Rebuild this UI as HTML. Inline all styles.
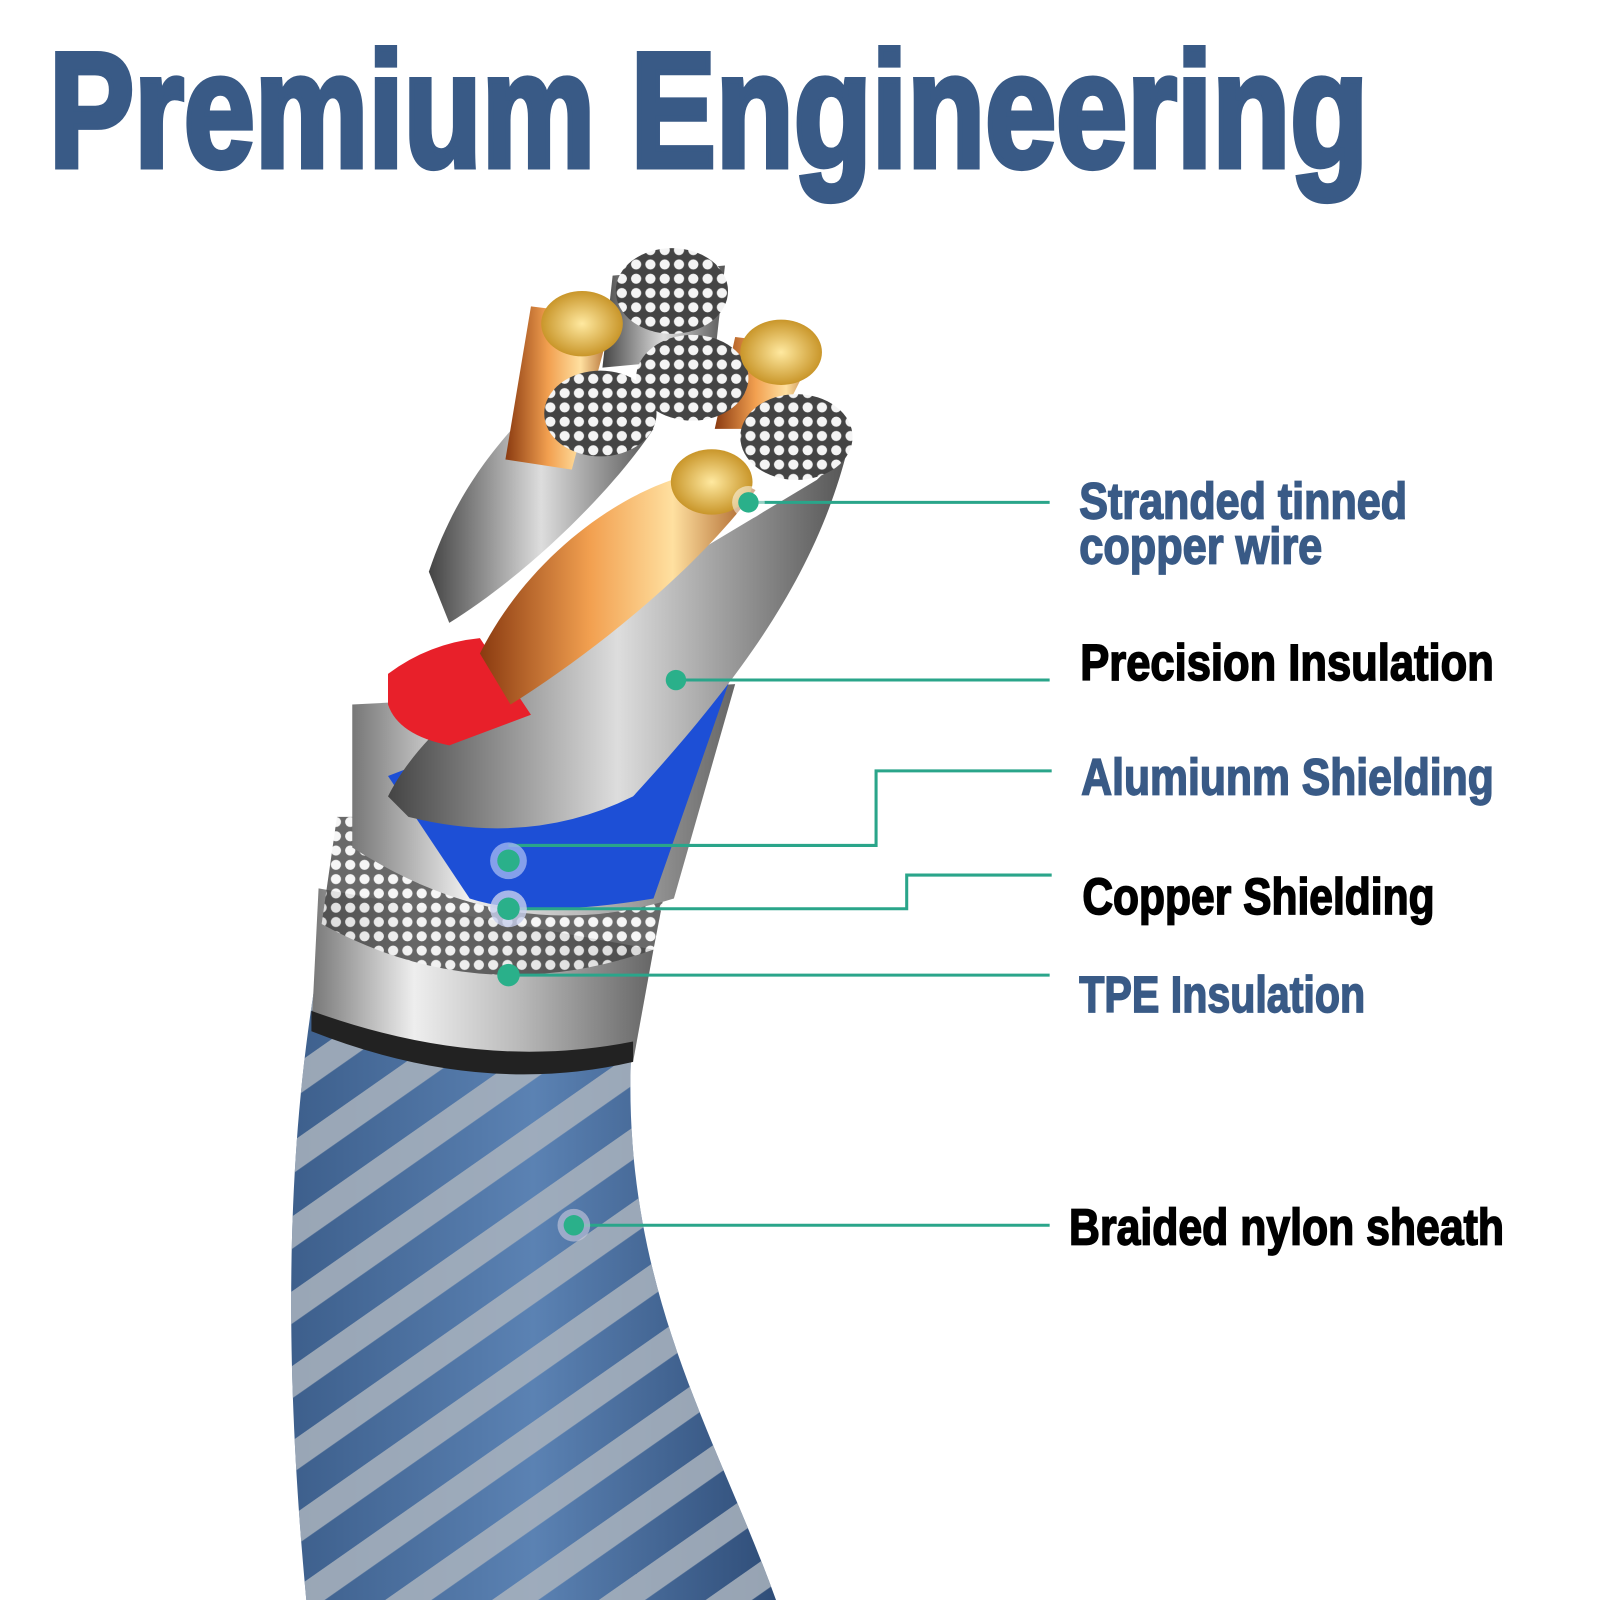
<!DOCTYPE html>
<html><head><meta charset="utf-8"><style>
html,body{margin:0;padding:0;background:#fff;width:1600px;height:1600px;overflow:hidden}
svg{display:block}
text{font-family:"Liberation Sans",sans-serif;font-weight:bold}
</style></head><body>
<svg width="1600" height="1600" viewBox="0 0 1567 1567" xmlns="http://www.w3.org/2000/svg">
<defs>
<linearGradient id="braid" x1="0" x2="1" y1="0" y2="0">
<stop offset="0" stop-color="#3d5f8c"/><stop offset="0.5" stop-color="#5b82b3"/><stop offset="1" stop-color="#2f4d78"/></linearGradient>
<pattern id="stripes" width="60" height="60" patternUnits="userSpaceOnUse" patternTransform="rotate(-35)">
<rect width="60" height="26" fill="#a9b3bd" opacity="0.85"/></pattern>
<linearGradient id="metal" x1="0" x2="1"><stop offset="0" stop-color="#777"/><stop offset="0.3" stop-color="#eee"/><stop offset="0.6" stop-color="#bbb"/><stop offset="1" stop-color="#666"/></linearGradient>
<linearGradient id="copper" x1="0" x2="1"><stop offset="0" stop-color="#8a3a10"/><stop offset="0.4" stop-color="#f2a050"/><stop offset="0.7" stop-color="#ffe0a0"/><stop offset="1" stop-color="#a55a20"/></linearGradient>
<linearGradient id="silver" x1="0" x2="1"><stop offset="0" stop-color="#444"/><stop offset="0.5" stop-color="#ddd"/><stop offset="1" stop-color="#555"/></linearGradient>
<radialGradient id="gold"><stop offset="0" stop-color="#ffe9a0"/><stop offset="1" stop-color="#c9962a"/></radialGradient>
<pattern id="dots" width="14" height="14" patternUnits="userSpaceOnUse"><rect width="14" height="14" fill="#444"/><circle cx="7" cy="7" r="5" fill="#f4f4f4"/></pattern>
</defs>
<text x="48" y="163" font-size="160" fill="#395a86" stroke="#395a86" stroke-width="6" textLength="1292" lengthAdjust="spacingAndGlyphs">Premium Engineering</text>

<path d="M320 900 C290 1050 270 1250 300 1567 L760 1567 C700 1400 600 1250 620 1000 Z" fill="url(#braid)"/>
<path d="M320 900 C290 1050 270 1250 300 1567 L760 1567 C700 1400 600 1250 620 1000 Z" fill="url(#stripes)"/>
<path d="M312 870 L640 930 L620 1040 Q470 1070 305 1010 Z" fill="url(#metal)"/>
<path d="M305 990 Q470 1050 620 1020 L620 1040 Q470 1075 305 1010Z" fill="#222"/>
<path d="M330 800 L665 800 L640 930 Q470 990 315 905 Z" fill="url(#dots)" opacity="0.8"/>
<path d="M345 690 L720 670 L660 880 Q500 930 345 830 Z" fill="url(#metal)"/>
<path d="M380 760 L640 660 L715 665 L640 880 Q520 900 460 880 Z" fill="#1d4fd6"/>
<path d="M380 780 C420 700 520 640 650 560 L800 470 L830 440 C800 560 730 660 620 780 Q520 830 400 800 Z" fill="url(#silver)"/>
<path d="M380 660 Q420 630 470 625 L520 700 L440 730 Q390 720 380 690Z" fill="#e8202a"/>
<path d="M470 640 C520 540 620 470 700 460 L740 480 C680 560 580 640 500 690 Z" fill="url(#copper)"/>
<path d="M420 560 C450 470 500 420 540 380 L640 420 C600 480 520 560 440 610 Z" fill="url(#silver)"/>
<path d="M495 450 L520 300 L600 310 L560 460 Z" fill="url(#copper)"/>
<path d="M600 270 L710 260 L700 350 L590 360Z" fill="url(#silver)"/>
<path d="M720 330 L800 340 L760 420 L700 420Z" fill="url(#copper)"/>
<ellipse cx="658" cy="285" rx="55" ry="42" fill="url(#dots)"/>
<ellipse cx="678" cy="370" rx="55" ry="42" fill="url(#dots)"/>
<ellipse cx="588" cy="405" rx="55" ry="42" fill="url(#dots)"/>
<ellipse cx="780" cy="428" rx="55" ry="42" fill="url(#dots)"/>
<ellipse cx="570" cy="317" rx="40" ry="32" fill="url(#gold)"/>
<ellipse cx="765" cy="345" rx="40" ry="32" fill="url(#gold)"/>
<ellipse cx="697" cy="472" rx="40" ry="32" fill="url(#gold)"/>

<g stroke="#2aa58a" stroke-width="3" fill="none">
<path d="M733 492 H1028"/><path d="M662 666 H1028"/>
<path d="M498 828 H858 V755 H1030"/><path d="M498 890 H888 V857 H1030"/>
<path d="M498 955 H1028"/><path d="M562 1200 H1028"/>
</g>
<g fill="#2ab08a">
<circle cx="733" cy="492" r="16" fill="#fff" opacity="0.5"/><circle cx="733" cy="492" r="10"/>
<circle cx="662" cy="666" r="10"/>
<circle cx="498" cy="843" r="18" fill="#9fb4f0" opacity="0.8"/><circle cx="498" cy="843" r="11"/>
<circle cx="498" cy="890" r="18" fill="#c8d0ee" opacity="0.8"/><circle cx="498" cy="890" r="11"/>
<circle cx="498" cy="955" r="11"/>
<circle cx="562" cy="1200" r="16" fill="#ccd" opacity="0.6"/><circle cx="562" cy="1200" r="10"/>
</g>

<g font-size="50" stroke-width="1.6">
<text x="1057" y="508" fill="#395a86" stroke="#395a86" textLength="321" lengthAdjust="spacingAndGlyphs">Stranded tinned</text>
<text x="1057" y="552" fill="#395a86" stroke="#395a86" textLength="238" lengthAdjust="spacingAndGlyphs">copper wire</text>
<text x="1058" y="666" fill="#000" stroke="#000" textLength="405" lengthAdjust="spacingAndGlyphs">Precision Insulation</text>
<text x="1059" y="778" fill="#395a86" stroke="#395a86" textLength="404" lengthAdjust="spacingAndGlyphs">Alumiunm Shielding</text>
<text x="1060" y="895" fill="#000" stroke="#000" textLength="345" lengthAdjust="spacingAndGlyphs">Copper Shielding</text>
<text x="1057" y="991" fill="#395a86" stroke="#395a86" textLength="280" lengthAdjust="spacingAndGlyphs">TPE Insulation</text>
<text x="1047" y="1219" fill="#000" stroke="#000" textLength="426" lengthAdjust="spacingAndGlyphs">Braided nylon sheath</text>
</g>
</svg>
</body></html>
